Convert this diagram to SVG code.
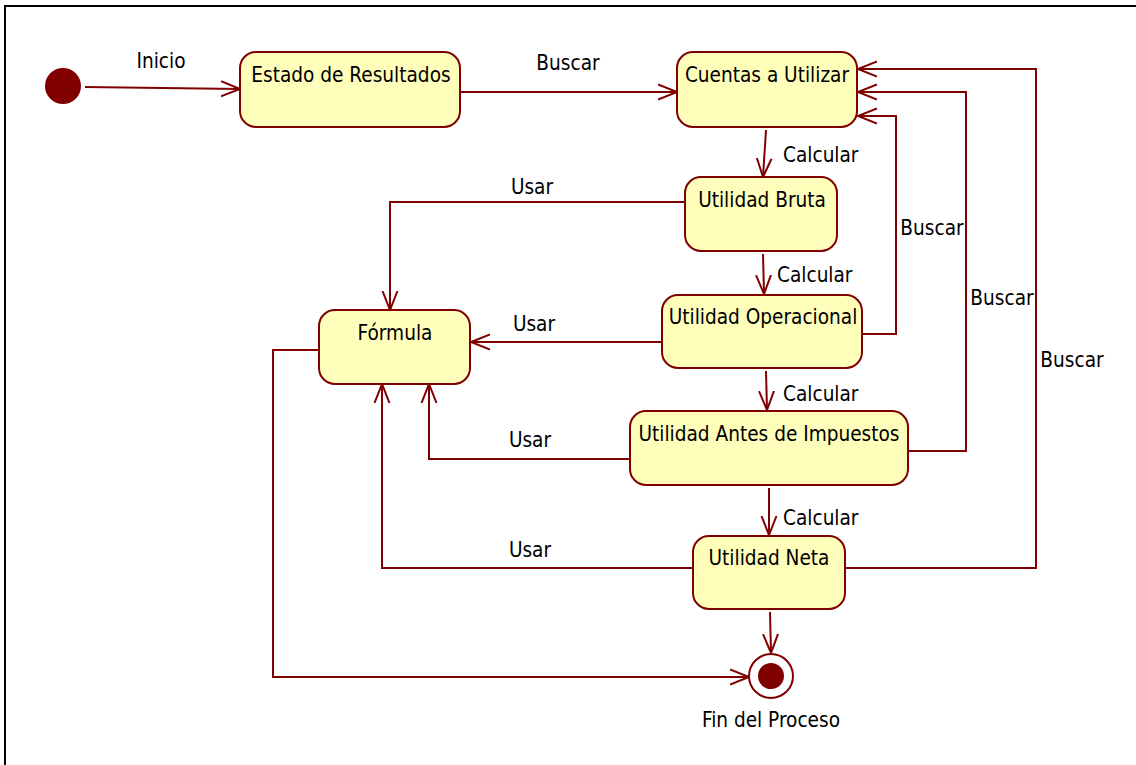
<svg xmlns="http://www.w3.org/2000/svg" width="1136" height="765" viewBox="0 0 1136 765">
<style>
.node rect{fill:#FFFFBB;stroke:#800000;stroke-width:2}
.lbl{font-family:"DejaVu Sans Condensed","DejaVu Sans",sans-serif;font-size:20.6px;fill:#000}
.c{text-anchor:middle}
#connectors path{fill:none;stroke:#800000;stroke-width:2}
</style>
<defs>
<marker id="arr" markerUnits="userSpaceOnUse" markerWidth="22" markerHeight="18" refX="19" refY="8" orient="auto" viewBox="0 0 22 16">
<path d="M0,0.5 L19,8 L0,15.5" fill="none" stroke="#800000" stroke-width="2"/>
</marker>
</defs>
<rect x="0" y="0" width="1136" height="765" fill="#fff"/>
<path d="M5,765 V6 H1136" fill="none" stroke="#000" stroke-width="2"/>

<g id="connectors">
<path d="M85,87 L240,89" marker-end="url(#arr)"/>
<path d="M460,92 L677,92" marker-end="url(#arr)"/>
<path d="M766,130 L763,177" marker-end="url(#arr)"/>
<path d="M763,254 L764,294" marker-end="url(#arr)"/>
<path d="M766,371 L767,410" marker-end="url(#arr)"/>
<path d="M769,488 L769,535" marker-end="url(#arr)"/>
<path d="M770,612 L771,653" marker-end="url(#arr)"/>
<path d="M685,202 H390 V310" marker-end="url(#arr)"/>
<path d="M661,342 H471" marker-end="url(#arr)"/>
<path d="M630,459 H429 V384" marker-end="url(#arr)"/>
<path d="M693,568 H382 V384" marker-end="url(#arr)"/>
<path d="M319,350 H273 V677 H749" marker-end="url(#arr)"/>
<path d="M862,334 H896 V116 H858" marker-end="url(#arr)"/>
<path d="M908,451 H966 V92 H858" marker-end="url(#arr)"/>
<path d="M845,568 H1036 V69 H858" marker-end="url(#arr)"/>
<text class="lbl c" x="161" y="68">Inicio</text>
<text class="lbl c" x="568" y="70">Buscar</text>
<text class="lbl" x="783" y="162">Calcular</text>
<text class="lbl" x="777" y="282">Calcular</text>
<text class="lbl" x="783" y="401">Calcular</text>
<text class="lbl" x="783" y="525">Calcular</text>
<text class="lbl c" x="532" y="194">Usar</text>
<text class="lbl c" x="534" y="331">Usar</text>
<text class="lbl c" x="530" y="447">Usar</text>
<text class="lbl c" x="530" y="557">Usar</text>
<text class="lbl c" x="932" y="235">Buscar</text>
<text class="lbl c" x="1002" y="305">Buscar</text>
<text class="lbl c" x="1072" y="367">Buscar</text>
</g>

<g id="initial">
<circle cx="63" cy="86" r="18" fill="#800000"/>
</g>
<g id="estado" class="node">
<rect x="240" y="52" width="220" height="75" rx="16"/>
<text class="lbl c" x="351" y="82">Estado de Resultados</text>
</g>
<g id="cuentas" class="node">
<rect x="677" y="52" width="180" height="75" rx="16"/>
<text class="lbl c" x="767" y="82">Cuentas a Utilizar</text>
</g>
<g id="bruta" class="node">
<rect x="685" y="177" width="152" height="74" rx="16"/>
<text class="lbl c" x="762" y="207">Utilidad Bruta</text>
</g>
<g id="operacional" class="node">
<rect x="662" y="295" width="200" height="73" rx="16"/>
<text class="lbl c" x="763" y="324">Utilidad Operacional</text>
</g>
<g id="formula" class="node">
<rect x="319" y="310" width="151" height="74" rx="16"/>
<text class="lbl c" x="395" y="340">Fórmula</text>
</g>
<g id="antes" class="node">
<rect x="630" y="411" width="278" height="74" rx="16"/>
<text class="lbl c" x="769" y="441">Utilidad Antes de Impuestos</text>
</g>
<g id="neta" class="node">
<rect x="693" y="536" width="152" height="73" rx="16"/>
<text class="lbl c" x="769" y="565">Utilidad Neta</text>
</g>
<g id="final">
<circle cx="771" cy="676" r="22" fill="#fff" stroke="#800000" stroke-width="2"/>
<circle cx="771" cy="676" r="13" fill="#800000"/>
<text class="lbl c" x="771" y="727">Fin del Proceso</text>
</g>
</svg>
